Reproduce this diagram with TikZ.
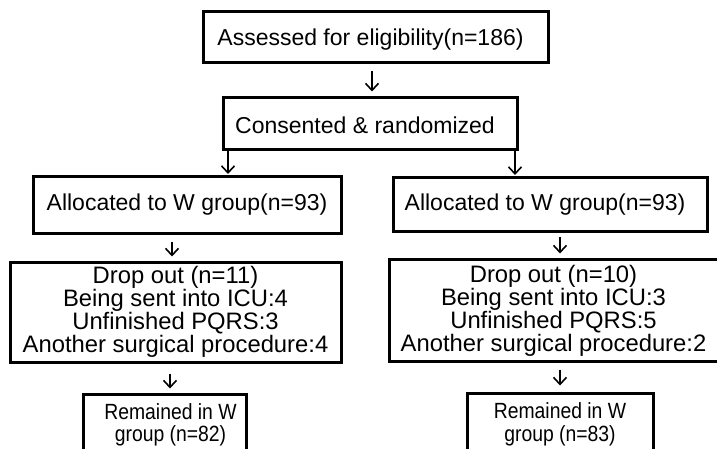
\documentclass[tikz,border=0pt]{standalone}
\usepackage{fontspec}
\setmainfont{Liberation Sans}
\newfontfamily\narrowsans[FakeStretch=0.88]{Liberation Sans}
\usetikzlibrary{arrows.meta}
\begin{document}
\begin{tikzpicture}[x=1pt,y=-1pt,
  box/.style={draw=black, line width=3pt, rectangle, inner sep=0pt},
  txt/.style={inner sep=0pt, align=center, font=\fontsize{23}{21}\selectfont},
  droptxt/.style={inner sep=0pt, align=center, font=\fontsize{23.8}{21.5}\selectfont},
  smalltxt/.style={inner sep=0pt, align=center, font=\narrowsans\fontsize{22}{22.5}\selectfont},
  arr/.style={line width=1.6pt, -{Straight Barb[length=7pt,width=13pt,line width=1.6pt]}}]
\useasboundingbox (0,0) rectangle (717,449);
% boxes
\node[box, minimum width=345pt, minimum height=51pt] (b1) at (375.5,37.5) {};
\node[box, minimum width=294pt, minimum height=52pt] (b2) at (370,124) {};
\node[box, minimum width=308pt, minimum height=56pt] (b3l) at (187,205) {};
\node[box, minimum width=314pt, minimum height=53pt] (b3r) at (550,204.5) {};
\node[box, minimum width=331pt, minimum height=100pt] (b4l) at (175.5,312) {};
\node[box, minimum width=329pt, minimum height=102pt] (b4r) at (553.5,310) {};
\node[box, minimum width=163pt, minimum height=60pt] (b5l) at (164.5,424) {};
\node[box, minimum width=186pt, minimum height=61pt] (b5r) at (560,423.5) {};
% texts
\node[txt] (t1) at ([xshift=-5pt,yshift=-2pt]b1.center) {Assessed for eligibility(n=186)};
\node[txt] (t2) at ([xshift=-5pt,yshift=-1pt]b2.center) {Consented \& randomized};
\node[txt] (t3l) at (b3l.center) {Allocated to W group(n=93)};
\node[txt] (t3r) at ([xshift=-5pt]b3r.center) {Allocated to W group(n=93)};
\node[droptxt] (t4l) at (b4l.center) {Drop out (n=11)\\Being sent into ICU:4\\Unfinished PQRS:3\\Another surgical procedure:4};
\node[droptxt] (t4r) at ([yshift=-1pt]b4r.center) {Drop out (n=10)\\Being sent into ICU:3\\Unfinished PQRS:5\\Another surgical procedure:2};
\node[smalltxt] (t5l) at ([xshift=6pt,yshift=-1pt]b5l.center) {Remained in W\\group (n=82)};
\node[smalltxt] (t5r) at ([yshift=-1pt]b5r.center) {Remained in W\\group (n=83)};
% connectors
\draw[arr, shorten <=7pt, shorten >=5pt] (372,0 |- b1.south) -- (372,0 |- b2.north);
\draw[arr, shorten >=1.5pt] (228,0 |- b2.south) -- (228,0 |- b3l.north);
\draw[arr, shorten >=1.5pt] (515,0 |- b2.south) -- (515,0 |- b3r.north);
\draw[arr, shorten <=7pt, shorten >=4pt] (172,0 |- b3l.south) -- (172,0 |- b4l.north);
\draw[arr, shorten <=4pt, shorten >=4pt] (560,0 |- b3r.south) -- (560,0 |- b4r.north);
\draw[arr, shorten <=10pt, shorten >=4pt] (170,0 |- b4l.south) -- (170,0 |- b5l.north);
\draw[arr, shorten <=7pt, shorten >=6pt] (560,0 |- b4r.south) -- (560,0 |- b5r.north);
\end{tikzpicture}
\end{document}
